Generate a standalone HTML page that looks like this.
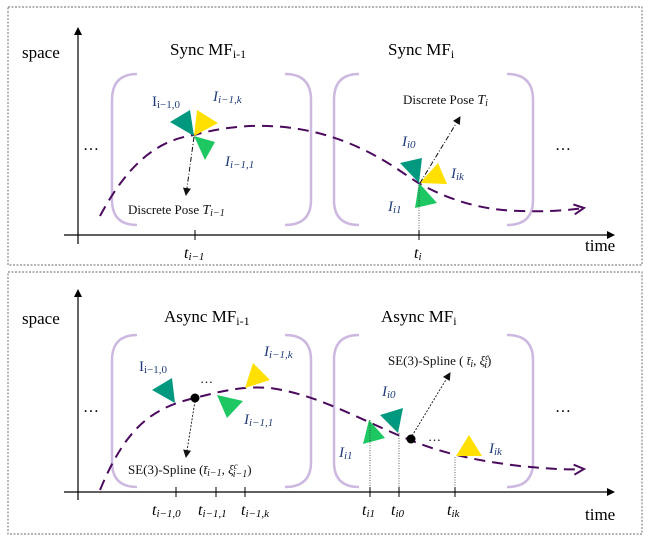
<!DOCTYPE html>
<html><head><meta charset="utf-8"><style>
html,body{margin:0;padding:0;background:#fff;}
svg text{font-family:"Liberation Serif",serif;}
.lbl{fill:#1F3C78;font-style:italic;font-size:15px;}
.lbl tspan{font-size:11px;}
.tk{font-size:16px;font-style:italic;}
.tk tspan{font-size:11px;}
.t{font-size:13px;fill:#111;}
</style></head><body>
<svg width="648" height="538" viewBox="0 0 648 538" xmlns="http://www.w3.org/2000/svg">
<defs>
<marker id="ah" markerWidth="8" markerHeight="8" refX="7" refY="4" orient="auto" markerUnits="userSpaceOnUse"><path d="M0,0 L8,4 L0,8 Z" fill="#000"/></marker>
<marker id="ah2" markerWidth="8" markerHeight="8" refX="7" refY="4" orient="auto" markerUnits="userSpaceOnUse"><path d="M0,0 L8,4 L0,8 Z" fill="#111"/></marker>
<marker id="pa" markerWidth="14" markerHeight="12" refX="12" refY="6" orient="auto" markerUnits="userSpaceOnUse"><path d="M2,1 L12,6 L2,11" fill="none" stroke="#4B0A5E" stroke-width="2"/></marker>
</defs>

<rect x="8" y="7" width="634" height="258" fill="none" stroke="#888" stroke-width="1.2" stroke-dasharray="2,1.5"/>
<rect x="8" y="272" width="634" height="262" fill="none" stroke="#888" stroke-width="1.2" stroke-dasharray="2,1.5"/>

<g>
<line x1="78" y1="244" x2="78" y2="28" stroke="#000" stroke-width="1.2" marker-end="url(#ah)"/>
<line x1="64" y1="235" x2="614" y2="235" stroke="#000" stroke-width="1.2" marker-end="url(#ah)"/>
<text x="22" y="58" font-size="17">space</text>
<text x="585" y="251" font-size="17">time</text>
<text x="170" y="55" font-size="17">Sync MF<tspan font-size="12" dy="3">i-1</tspan></text>
<text x="388" y="55" font-size="17">Sync MF<tspan font-size="12" dy="3">i</tspan></text>
<g fill="none" stroke="#CDB8E0" stroke-width="2.5">
<path d="M137,74 Q112,74 112,100 L112,200 Q112,225 137,225"/>
<path d="M285,74 Q311,74 311,100 L311,200 Q311,225 285,225"/>
<path d="M359,74 Q334,74 334,100 L334,200 Q334,225 359,225"/>
<path d="M507,74 Q533,74 533,100 L533,200 Q533,225 507,225"/>
</g>
<path d="M100,216 C130,160 160,140 194,135 C240,122 300,120 360,148 C390,162 405,175 420,184 C450,200 480,210 520,211 C550,212 570,210 584,208" fill="none" stroke="#4B0A5E" stroke-width="2" stroke-dasharray="11,7" marker-end="url(#pa)"/>
<text x="83" y="150" font-size="16">…</text>
<text x="555" y="150" font-size="16">…</text>
<polygon points="170,122 190,110 194,136" fill="#009980"/>
<polygon points="197,110 218,123 194,136" fill="#FFE000"/>
<polygon points="194,136 215,142 205,160" fill="#1DC863"/>
<line x1="194" y1="137" x2="186" y2="195" stroke="#111" stroke-width="1" stroke-dasharray="5,2,1,2" marker-end="url(#ah2)"/>
<text class="lbl" x="152" y="106" style="font-style:normal">I<tspan dy="2">i−1,0</tspan></text>
<text class="lbl" x="213" y="101">I<tspan dy="2">i−1,k</tspan></text>
<text class="lbl" x="225" y="166">I<tspan dy="2">i−1,1</tspan></text>
<text class="t" x="128" y="214">Discrete Pose <tspan font-style="italic" font-size="14">T</tspan><tspan font-style="italic" font-size="10" dy="2">i−1</tspan></text>
<line x1="195" y1="230" x2="195" y2="240" stroke="#000"/>
<text class="tk" x="184" y="258">t<tspan dy="2">i−1</tspan></text>
<polygon points="400,163 422,158 419,183" fill="#009980"/>
<polygon points="420,183 438,163 447,184" fill="#FFE000"/>
<polygon points="419,183 437,203 415,208" fill="#1DC863"/>
<line x1="420" y1="183" x2="460" y2="117" stroke="#111" stroke-width="1" stroke-dasharray="5,2,1,2" marker-end="url(#ah2)"/>
<line x1="419" y1="185" x2="419" y2="235" stroke="#333" stroke-width="0.8" stroke-dasharray="1,1.5"/>
<text class="t" x="403" y="104">Discrete Pose <tspan font-style="italic" font-size="14">T</tspan><tspan font-style="italic" font-size="10" dy="2">i</tspan></text>
<text class="lbl" x="402" y="146">I<tspan dy="2">i0</tspan></text>
<text class="lbl" x="451" y="178">I<tspan dy="2">ik</tspan></text>
<text class="lbl" x="388" y="211">I<tspan dy="2">i1</tspan></text>
<line x1="419" y1="230" x2="419" y2="240" stroke="#000"/>
<text class="tk" x="414" y="258">t<tspan dy="2">i</tspan></text>
</g>

<g>
<line x1="78" y1="500" x2="78" y2="290" stroke="#000" stroke-width="1.2" marker-end="url(#ah)"/>
<line x1="64" y1="492" x2="614" y2="492" stroke="#000" stroke-width="1.2" marker-end="url(#ah)"/>
<text x="22" y="324" font-size="17">space</text>
<text x="585" y="520" font-size="17">time</text>
<text x="164" y="322" font-size="17">Async MF<tspan font-size="12" dy="3">i-1</tspan></text>
<text x="381" y="322" font-size="17">Async MF<tspan font-size="12" dy="3">i</tspan></text>
<g fill="none" stroke="#CDB8E0" stroke-width="2.5">
<path d="M137,335 Q112,335 112,360 L112,462 Q112,487 137,487"/>
<path d="M285,335 Q311,335 311,360 L311,462 Q311,487 285,487"/>
<path d="M359,335 Q334,335 334,360 L334,462 Q334,487 359,487"/>
<path d="M507,335 Q533,335 533,360 L533,462 Q533,487 507,487"/>
</g>
<path d="M100,490 C125,430 150,408 195,398 C225,390 245,386 270,388 C320,395 360,420 410,440 C440,452 470,460 520,466 C550,469 570,470 584,469" fill="none" stroke="#4B0A5E" stroke-width="2" stroke-dasharray="11,7" marker-end="url(#pa)"/>
<text x="83" y="412" font-size="16">…</text>
<text x="555" y="412" font-size="16">…</text>
<polygon points="152,390 172,378 175,403" fill="#009980"/>
<polygon points="217,395 243,401 227,418" fill="#1DC863"/>
<polygon points="245,388 253,363 270,380" fill="#FFE000"/>
<circle cx="195" cy="398" r="4.5" fill="#000"/>
<text x="200" y="383" font-size="13">…</text>
<line x1="195" y1="401" x2="186" y2="457" stroke="#111" stroke-width="0.9" stroke-dasharray="2,1.5" marker-end="url(#ah2)"/>
<text class="lbl" x="139" y="371" style="font-style:normal">I<tspan dy="2">i−1,0</tspan></text>
<text class="lbl" x="264" y="356">I<tspan dy="2">i−1,k</tspan></text>
<text class="lbl" x="244" y="424">I<tspan dy="2">i−1,1</tspan></text>
<text class="t" x="128" y="474">SE(3)-Spline (<tspan font-style="italic">t̄</tspan><tspan font-style="italic" font-size="10" dy="2">i−1</tspan><tspan dy="-2">, </tspan><tspan font-style="italic">ξ</tspan><tspan font-style="italic" font-size="9" dy="-5">c</tspan><tspan font-style="italic" font-size="10" dx="-5" dy="8">i−1</tspan><tspan dy="-3">)</tspan></text>
<line x1="176" y1="487" x2="176" y2="497" stroke="#000"/>
<line x1="216" y1="487" x2="216" y2="497" stroke="#000"/>
<line x1="245" y1="487" x2="245" y2="497" stroke="#000"/>
<text class="tk" x="152" y="515">t<tspan dy="2">i−1,0</tspan></text>
<text class="tk" x="198" y="515">t<tspan dy="2">i−1,1</tspan></text>
<text class="tk" x="241" y="515">t<tspan dy="2">i−1,k</tspan></text>
<polygon points="380,415 403,408 398,433" fill="#009980"/>
<polygon points="369,420 385,438 363,444" fill="#1DC863"/>
<polygon points="456,456 469,435 482,456" fill="#FFE000"/>
<circle cx="411" cy="439" r="4.5" fill="#000"/>
<text x="428" y="441" font-size="13">…</text>
<line x1="412" y1="436" x2="450" y2="373" stroke="#111" stroke-width="0.9" stroke-dasharray="2,1.5" marker-end="url(#ah2)"/>
<line x1="370" y1="420" x2="370" y2="492" stroke="#333" stroke-width="0.8" stroke-dasharray="1,1.5"/>
<line x1="399" y1="433" x2="399" y2="492" stroke="#333" stroke-width="0.8" stroke-dasharray="1,1.5"/>
<line x1="455" y1="457" x2="455" y2="492" stroke="#333" stroke-width="0.8" stroke-dasharray="1,1.5"/>
<text class="t" x="388" y="365">SE(3)-Spline ( <tspan font-style="italic">t̄</tspan><tspan font-style="italic" font-size="10" dy="2">i</tspan><tspan dy="-2">, </tspan><tspan font-style="italic">ξ</tspan><tspan font-style="italic" font-size="9" dy="-5">c</tspan><tspan font-style="italic" font-size="10" dx="-5" dy="8">i</tspan><tspan dy="-3">)</tspan></text>
<text class="lbl" x="382" y="396">I<tspan dy="2">i0</tspan></text>
<text class="lbl" x="339" y="457">I<tspan dy="2">i1</tspan></text>
<text class="lbl" x="489" y="453">I<tspan dy="2">ik</tspan></text>
<line x1="370" y1="487" x2="370" y2="497" stroke="#000"/>
<line x1="399" y1="487" x2="399" y2="497" stroke="#000"/>
<line x1="455" y1="487" x2="455" y2="497" stroke="#000"/>
<text class="tk" x="362" y="515">t<tspan dy="2">i1</tspan></text>
<text class="tk" x="391" y="515">t<tspan dy="2">i0</tspan></text>
<text class="tk" x="447" y="515">t<tspan dy="2">ik</tspan></text>
</g>
</svg>
</body></html>
